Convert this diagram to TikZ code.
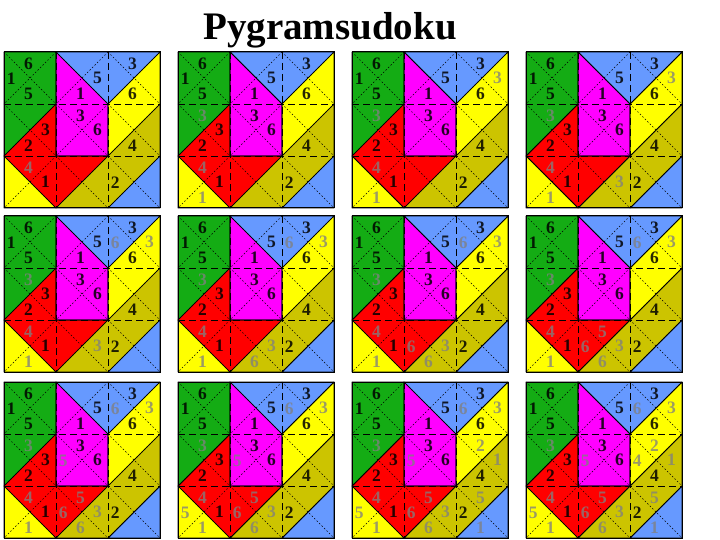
\documentclass[tikz,border=0pt]{standalone}
\usepackage{fontspec}
\setmainfont{Liberation Serif}
\definecolor{pgreen}{RGB}{20,172,20}
\definecolor{pmag}{RGB}{255,0,255}
\definecolor{pblue}{RGB}{102,153,255}
\definecolor{pyellow}{RGB}{255,255,0}
\definecolor{pred}{RGB}{255,0,0}
\definecolor{polive}{RGB}{204,196,0}
\definecolor{numgrey}{RGB}{128,128,128}
\tikzset{
  region/.style={draw=black, line width=0.7pt, line join=round},
  gridline/.style={draw=black, dash pattern=on 7pt off 4pt, line width=0.7pt},
  diag/.style={draw=black, dash pattern=on 1.5pt off 2pt, line width=0.45pt},
  given/.style={font=\bfseries\fontsize{17.5}{17.5}\selectfont, text=black, text opacity=0.85, inner sep=0pt},
  found/.style={given, text=numgrey, text opacity=0.78},
}
% number placement in cell (c,r): top, right, bottom, left triangles
\newcommand\nT[4][given]{\node[#1] at (#2+0.47,#3+0.23) {#4};}
\newcommand\nR[4][given]{\node[#1] at (#2+0.8,#3+0.5) {#4};}
\newcommand\nB[4][given]{\node[#1] at (#2+0.47,#3+0.81) {#4};}
\newcommand\nL[4][given]{\node[#1] at (#2+0.14,#3+0.52) {#4};}
\newcommand\pyg[3]{%
  \begin{scope}[shift={(#1pt,-#2pt)}, x=52pt, y=-52pt]
    \fill[pgreen] (0,0)--(1,0)--(1,1)--(0,2)--cycle;
    \fill[pmag] (1,0)--(2,1)--(2,2)--(1,2)--cycle;
    \fill[pblue] (1,0)--(3,0)--(2,1)--cycle;
    \fill[pyellow] (3,0)--(3,1)--(2,2)--(2,1)--cycle;
    \fill[pred] (0,2)--(1,1)--(1,2)--(2,2)--(1,3)--cycle;
    \fill[pyellow] (0,2)--(1,3)--(0,3)--cycle;
    \fill[polive] (3,1)--(3,2)--(2,3)--(1,3)--(2,2)--cycle;
    \fill[pblue] (3,2)--(3,3)--(2,3)--cycle;
    \foreach \i in {0,1,2}{\foreach \j in {0,1,2}{
      \draw[diag] (\i,\j)--++(1,1) (\i+1,\j)--++(-1,1);}}
    \draw[gridline] (1,0)--(1,3) (2,0)--(2,3) (0,1)--(3,1) (0,2)--(3,2);
    \draw[region] (0,0)--(1,0)--(1,1)--(0,2)--cycle;
    \draw[region] (1,0)--(2,1)--(2,2)--(1,2)--cycle;
    \draw[region] (1,0)--(3,0)--(2,1)--cycle;
    \draw[region] (3,0)--(3,1)--(2,2)--(2,1)--cycle;
    \draw[region] (0,2)--(1,1)--(1,2)--(2,2)--(1,3)--cycle;
    \draw[region] (0,2)--(1,3)--(0,3)--cycle;
    \draw[region] (3,1)--(3,2)--(2,3)--(1,3)--(2,2)--cycle;
    \draw[region] (3,2)--(3,3)--(2,3)--cycle;
    \draw[black, line width=1pt] (0,0) rectangle (3,3);
    \nT{0}{0}{6}\nL{0}{0}{1}\nB{0}{0}{5}
    \nR{1}{0}{5}\nB{1}{0}{1}
    \nT{2}{0}{3}\nB{2}{0}{6}
    \nT{1}{1}{3}\nR{1}{1}{6}
    \nR{0}{1}{3}\nB{0}{1}{2}
    \nB{2}{1}{4}
    \nR{0}{2}{1}\nL{2}{2}{2}
    \nT[found]{0}{2}{4}
    #3
  \end{scope}}
\newcommand\gB{\nT[found]{0}{1}{3}\nB[found]{0}{2}{1}}
\newcommand\gC{\gB\nR[found]{2}{0}{3}}
\newcommand\gD{\gC\nR[found]{1}{2}{3}}
\newcommand\gE{\gD\nL[found]{2}{0}{6}}
\newcommand\gF{\gE\nB[found]{1}{2}{6}}
\newcommand\gG{\gF\nL[found]{1}{2}{6}}
\newcommand\gH{\gG\nT[found]{1}{2}{5}}
\newcommand\gI{\gH\nL[found]{1}{1}{5}}
\newcommand\gJ{\gI\nL[found]{0}{2}{5}}
\newcommand\gK{\gJ\nT[found]{2}{1}{2}\nR[found]{2}{1}{1}\nT[found]{2}{2}{5}\nB[found]{2}{2}{1}}
\newcommand\gL{\gK\nL[found]{2}{1}{4}}
\begin{document}
\begin{tikzpicture}
  \useasboundingbox[fill=white] (0pt,0pt) rectangle (720pt,-540pt);
  \node[anchor=base, font=\bfseries\fontsize{39}{39}\selectfont, inner sep=0pt] (title) at (330pt,-40pt) {Pygramsudoku};
  \pyg{4}{52}{}
  \pyg{178}{52}{\gB}
  \pyg{352}{52}{\gC}
  \pyg{526}{52}{\gD}
  \pyg{4}{216}{\gE}
  \pyg{178}{216}{\gF}
  \pyg{352}{216}{\gG}
  \pyg{526}{216}{\gH}
  \pyg{4}{382}{\gI}
  \pyg{178}{382}{\gJ}
  \pyg{352}{382}{\gK}
  \pyg{526}{382}{\gL}
\end{tikzpicture}
\end{document}
